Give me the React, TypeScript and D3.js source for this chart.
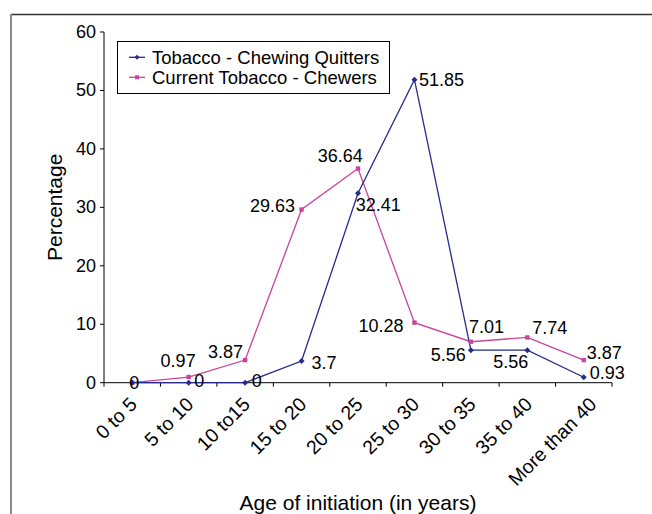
import React from "react";
import * as d3 from "d3";

const categories = ["0 to 5", "5 to 10", "10 to15", "15 to 20", "20 to 25", "25 to 30", "30 to 35", "35 to 40", "More than 40"];
const quitters = [0, 0, 0, 3.7, 32.41, 51.85, 5.56, 5.56, 0.93];
const chewers = [0, 0.97, 3.87, 29.63, 36.64, 10.28, 7.01, 7.74, 3.87];
const yTicks = [0, 10, 20, 30, 40, 50, 60];
const seriesNames = ["Tobacco - Chewing Quitters", "Current Tobacco - Chewers"];

// label placement offsets (layout, not data)
const quitLabelPos: [number, number, string][] = [
  [2, 6.5, "middle"], [5.6, 4.6, "start"], [6.6, 4.6, "start"], [10, 8, "start"], [-2.3, 17.4, "start"],
  [4.6, 6, "start"], [-5.2, 11, "end"], [1, 18, "end"], [6, 1.7, "start"],
];
const chewLabelPos: [number, number, string][] = [
  [2, 6.5, "middle"], [7, -10, "end"], [-2, -2, "end"], [-6.5, 2, "end"], [4.7, -6.8, "end"],
  [-11, 9, "end"], [-2, -8.4, "start"], [5, -3, "start"], [3, -1, "start"],
];

const NAVY = "#262b8c";
const MAGENTA = "#c8449e";
const FONT = "'Liberation Sans', Arial, sans-serif";

export default function App() {
  const left = 104, right = 612, top = 32, bottom = 382.7;
  const x = d3.scaleBand<string>().domain(categories).range([left, right]);
  const y = d3.scaleLinear().domain([0, 60]).range([bottom, top]);
  const cx = (i: number) => (x(categories[i]) as number) + x.bandwidth() / 2;
  const line = d3.line<number>().x((_, i) => cx(i)).y((v) => y(v));
  const boundaries = d3.range(categories.length + 1).map((i) => left + i * x.bandwidth());

  return (
    <svg width={652} height={514} style={{ position: "absolute", left: 0, top: 0 }} fontFamily={FONT}>
      <rect x={0} y={0} width={652} height={514} fill="#fff" />
      <line x1={11} y1={14.5} x2={652} y2={14.5} stroke="#333" strokeWidth={1.5} />
      <line x1={11} y1={14} x2={11} y2={514} stroke="#888" strokeWidth={2} />

      {/* y axis */}
      <line x1={left} y1={top} x2={left} y2={bottom} stroke="#000" strokeWidth={1} />
      {yTicks.map((t) => (
        <g key={t}>
          <line x1={left - 4} x2={left} y1={y(t)} y2={y(t)} stroke="#000" />
          <text x={96} y={y(t) + 6} fontSize={18} textAnchor="end" fill="#000">{t}</text>
        </g>
      ))}
      {/* x axis */}
      <line x1={left} y1={bottom} x2={right} y2={bottom} stroke="#000" strokeWidth={1} />
      {boundaries.map((b, i) => (
        <line key={i} x1={b} x2={b} y1={bottom} y2={bottom + 4} stroke="#000" />
      ))}
      {categories.map((c, i) => (
        <text key={c} transform={`translate(${cx(i) + (i === categories.length - 1 ? 14 : 6)},${bottom + 23}) rotate(-45)`} fontSize={19.5} textAnchor="end" fill="#000">{c}</text>
      ))}

      {/* lines */}
      <path d={line(chewers) as string} fill="none" stroke={MAGENTA} strokeWidth={1.3} />
      <path d={line(quitters) as string} fill="none" stroke={NAVY} strokeWidth={1.3} />
      {chewers.map((v, i) => (
        <rect key={"cm" + i} x={cx(i) - 2.2} y={y(v) - 2.2} width={4.4} height={4.4} fill={MAGENTA} />
      ))}
      {quitters.map((v, i) => (
        <path key={"qm" + i} d={`M${cx(i)},${y(v) - 3}L${cx(i) + 3},${y(v)}L${cx(i)},${y(v) + 3}L${cx(i) - 3},${y(v)}Z`} fill={NAVY} />
      ))}

      {/* data labels */}
      {chewers.map((v, i) => (
        <text key={"cl" + i} x={cx(i) + chewLabelPos[i][0]} y={y(v) + chewLabelPos[i][1]} fontSize={18} textAnchor={chewLabelPos[i][2]} fill="#000">{v}</text>
      ))}
      {quitters.map((v, i) => (
        i === 0 ? null :
        <text key={"ql" + i} x={cx(i) + quitLabelPos[i][0]} y={y(v) + quitLabelPos[i][1]} fontSize={18} textAnchor={quitLabelPos[i][2]} fill="#000">{v}</text>
      ))}

      {/* legend */}
      <rect x={117.5} y={41.5} width={272} height={52} fill="#fff" stroke="#000" strokeWidth={1} />
      {seriesNames.map((n, i) => {
        const ly = 57.3 + i * 20;
        const col = i === 0 ? NAVY : MAGENTA;
        return (
          <g key={n}>
            <line x1={129} x2={145} y1={ly} y2={ly} stroke={col} strokeWidth={1.3} />
            {i === 0 ? (
              <path d={`M137,${ly - 2.5}L139.5,${ly}L137,${ly + 2.5}L134.5,${ly}Z`} fill={col} />
            ) : (
              <rect x={135} y={ly - 2} width={4} height={4} fill={col} />
            )}
            <text x={152} y={ly + 6.3} fontSize={18.5} fill="#000">{n}</text>
          </g>
        );
      })}

      {/* axis titles */}
      <text transform={`translate(62,${(top + bottom) / 2}) rotate(-90)`} fontSize={21} textAnchor="middle" fill="#000">Percentage</text>
      <text x={(left + right) / 2} y={510} fontSize={21} textAnchor="middle" fill="#000">Age of initiation (in years)</text>
    </svg>
  );
}
